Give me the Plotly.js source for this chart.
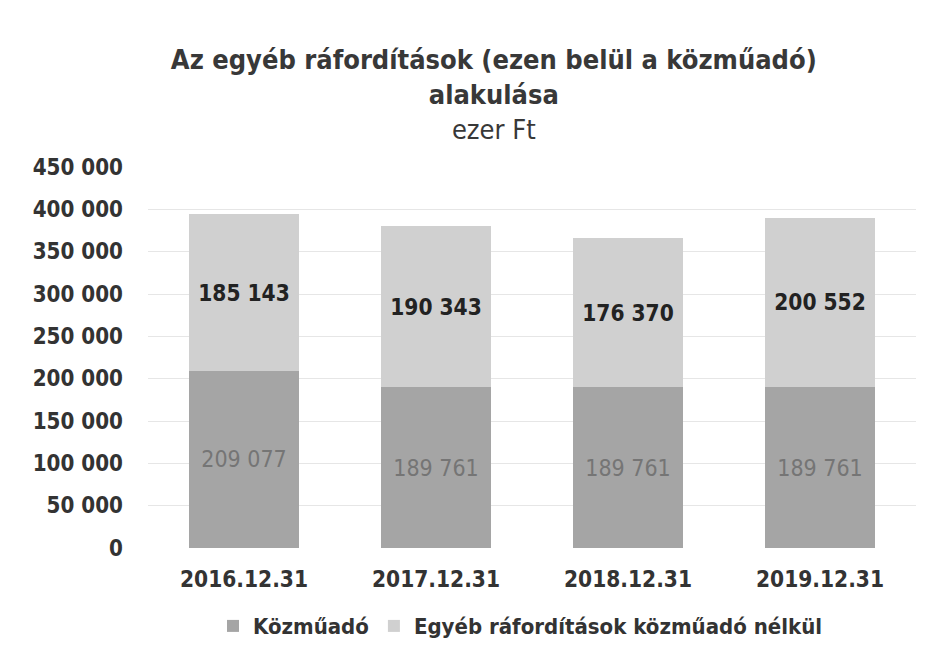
<!DOCTYPE html>
<html><head><meta charset="utf-8">
<script src="https://cdn.plot.ly/plotly-3.0.1.min.js"></script>
<style>html,body{margin:0;padding:0;background:#fff}</style>
</head><body>
<div id="chart" style="width:930px;height:667px"></div>
<script>
const categories = ["2016.12.31", "2017.12.31", "2018.12.31", "2019.12.31"];
const kozmuado = [209077, 189761, 189761, 189761];
const egyeb = [185143, 190343, 176370, 200552];
const seriesNames = ["Közműadó", "Egyéb ráfordítások közműadó nélkül"];
const yTicks = [0, 50000, 100000, 150000, 200000, 250000, 300000, 350000, 400000, 450000];

const FONT = "DejaVu Sans, sans-serif";
const FONTC = "DejaVu Sans Condensed, DejaVu Sans, sans-serif";

const traces = [
  {
    type: "bar", name: seriesNames[0], x: categories, y: kozmuado,
    marker: {color: "#a5a5a5"},
    texttemplate: "%{y:,.0f}", textposition: "inside", insidetextanchor: "middle",
    textfont: {family: FONTC, size: 23, color: "#757575"},
    hoverinfo: "none"
  },
  {
    type: "bar", name: seriesNames[1], x: categories, y: egyeb,
    marker: {color: "#d0d0d0"},
    texttemplate: "<b>%{y:,.0f}</b>", textposition: "inside", insidetextanchor: "middle",
    textfont: {family: FONTC, size: 22.5, color: "#222222"},
    hoverinfo: "none"
  }
];

const layout = {
  width: 930, height: 667,
  barmode: "stack", bargap: 0.43,
  separators: ", ",
  paper_bgcolor: "#fff", plot_bgcolor: "#fff",
  margin: {l: 148, r: 14, t: 167, b: 119},
  font: {family: FONT, color: "#333"},
  title: {
    text: "<b>Az egyéb ráfordítások (ezen belül a közműadó)</b><br><b>alakulása</b><br>ezer Ft",
    x: 0.531, xref: "container", xanchor: "center",
    y: 0.897, yref: "container", yanchor: "top",
    font: {family: FONTC, size: 27, color: "#383838"}
  },
  xaxis: {
    type: "category",
    tickfont: {family: FONTC, size: 22.5, color: "#333", weight: "bold"},
    showline: false, ticks: "", showgrid: false,
    ticklabelstandoff: 15
  },
  yaxis: {
    range: [0, 450000], tickvals: yTicks, tickformat: ",d",
    tickfont: {family: FONTC, size: 22.2, color: "#333", weight: "bold"},
    gridcolor: "#e6e6e6", gridwidth: 1, zeroline: false, ticks: "", showline: false,
    ticklabelstandoff: 24
  },
  legend: {
    orientation: "h", x: 0.485, xanchor: "center", xref: "paper",
    y: -0.205, yanchor: "middle",
    font: {family: FONTC, size: 22, color: "#333", weight: "bold"},
    traceorder: "normal", itemwidth: 30
  }
};

Plotly.newPlot("chart", traces, layout, {displayModeBar: false, staticPlot: true});
</script>
</body></html>
